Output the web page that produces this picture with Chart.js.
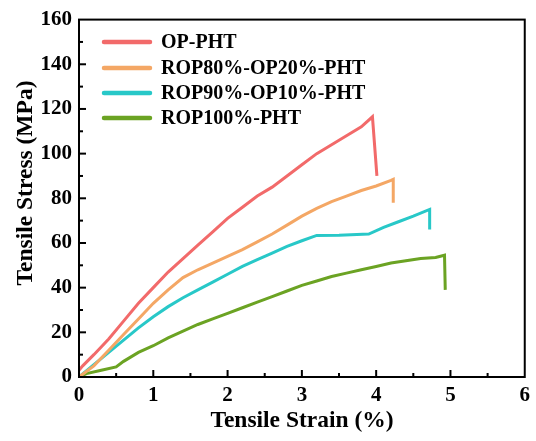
<!DOCTYPE html>
<html>
<head>
<meta charset="utf-8">
<script src="https://cdn.jsdelivr.net/npm/chart.js@4.4.0/dist/chart.umd.min.js"></script>
<style>
  html, body { margin: 0; padding: 0; background: #fff; }
  #wrap { width: 536px; height: 441px; }
</style>
</head>
<body>
<div id="wrap"><canvas id="stressChart" width="536" height="441"></canvas></div>
<script>
// datos (deformación %, tensión MPa)
const seriesNames = ["OP-PHT", "ROP80%-OP20%-PHT", "ROP90%-OP10%-PHT", "ROP100%-PHT"];
const seriesColors = ["#F26A6A", "#F4A765", "#28C8C8", "#6BA323"];

const opStrain = [0, 0.05, 0.2, 0.4, 0.6, 0.8, 1.0, 1.2, 1.4, 1.6, 1.8, 2.0, 2.2, 2.4, 2.6, 2.8, 3.0, 3.2, 3.4, 3.6, 3.8, 3.95, 4.01];
const opStress = [3, 5, 10, 17, 25, 33, 40, 47, 53, 59, 65, 71, 76, 81, 85, 90, 95, 100, 104, 108, 112, 116.5, 90];

const rop80Strain = [0, 0.2, 0.4, 0.6, 0.8, 1.0, 1.2, 1.4, 1.6, 1.8, 2.0, 2.2, 2.4, 2.6, 2.8, 3.0, 3.2, 3.4, 3.6, 3.8, 4.0, 4.2, 4.23, 4.23];
const rop80Stress = [0, 5, 12, 19, 26, 33, 39, 44.5, 48, 51, 54, 57, 60.5, 64, 68, 72, 75.5, 78.5, 81, 83.5, 85.5, 88, 88.5, 78];

const rop90Strain = [0, 0.2, 0.4, 0.6, 0.8, 1.0, 1.2, 1.4, 1.6, 1.8, 2.0, 2.2, 2.4, 2.6, 2.8, 3.0, 3.2, 3.5, 3.9, 4.1, 4.3, 4.5, 4.72, 4.72];
const rop90Stress = [0, 5.5, 11, 16.5, 22, 27, 31.5, 35.5, 39, 42.5, 46, 49.5, 52.5, 55.5, 58.5, 61, 63.4, 63.5, 64, 67, 69.5, 72, 75, 66];

const rop100Strain = [0, 0.1, 0.3, 0.5, 0.6, 0.8, 1.0, 1.2, 1.4, 1.6, 1.8, 2.0, 2.2, 2.4, 2.6, 2.8, 3.0, 3.2, 3.4, 3.6, 3.8, 4.0, 4.2, 4.4, 4.6, 4.8, 4.92, 4.93];
const rop100Stress = [0, 1.5, 3, 4.5, 7, 11, 14, 17.5, 20.5, 23.5, 26, 28.5, 31, 33.5, 36, 38.5, 41, 43, 45, 46.5, 48, 49.5, 51, 52, 53, 53.5, 54.5, 39];

const xTicks = [0, 1, 2, 3, 4, 5, 6];
const yTicks = [0, 20, 40, 60, 80, 100, 120, 140, 160];

const xTitle = "Tensile Strain (%)";
const yTitle = "Tensile Stress (MPa)";

const allStrain = [opStrain, rop80Strain, rop90Strain, rop100Strain];
const allStress = [opStress, rop80Stress, rop90Stress, rop100Stress];

function toPoints(xs, ys) {
    return xs.map((x, i) => ({ x: x, y: ys[i] }));
}

const boldSerif = "'Liberation Serif', 'DejaVu Serif', serif";

// marco, marcas menores, títulos y leyenda interior
const frameAndLegend = {
    id: "frameAndLegend",
    afterDraw(chart) {
        const ctx = chart.ctx;
        const a = chart.chartArea;
        const xs = chart.scales.x;
        const ys = chart.scales.y;
        ctx.save();
        ctx.strokeStyle = "#000";
        ctx.lineWidth = 2;
        ctx.strokeRect(a.left, a.top, a.right - a.left, a.bottom - a.top);

        for (let v = 0.5; v < 6; v += 0.5) {
            const len = Number.isInteger(v) ? 7 : 4;
            const px = xs.getPixelForValue(v);
            ctx.beginPath();
            ctx.moveTo(px, a.bottom);
            ctx.lineTo(px, a.bottom - len);
            ctx.stroke();
        }
        for (let v = 10; v < 160; v += 10) {
            const len = v % 20 === 0 ? 7 : 4;
            const py = ys.getPixelForValue(v);
            ctx.beginPath();
            ctx.moveTo(a.left, py);
            ctx.lineTo(a.left + len, py);
            ctx.stroke();
        }

        // títulos de ejes
        ctx.fillStyle = "#000";
        ctx.font = "bold 23.5px " + boldSerif;
        ctx.textAlign = "center";
        ctx.textBaseline = "middle";
        ctx.fillText(xTitle, 302, 421);
        ctx.save();
        ctx.translate(26, 183);
        ctx.rotate(-Math.PI / 2);
        ctx.fillText(yTitle, 0, 0);
        ctx.restore();

        // leyenda
        ctx.font = "bold 20px " + boldSerif;
        ctx.textAlign = "left";
        const rowY = [42, 68, 93, 118];
        chart.data.datasets.forEach((ds, i) => {
            const y = rowY[i];
            ctx.strokeStyle = ds.borderColor;
            ctx.lineWidth = 4.5;
            ctx.lineCap = "round";
            ctx.beginPath();
            ctx.moveTo(104, y);
            ctx.lineTo(150, y);
            ctx.stroke();
            ctx.fillStyle = "#000";
            ctx.fillText(ds.label, 161, y + 1);
        });
        ctx.restore();
    }
};

const ctx = document.getElementById("stressChart").getContext("2d");
const stressChart = new Chart(ctx, {
    type: "scatter",
    data: {
        datasets: seriesNames.map((name, i) => ({
            label: name,
            data: toPoints(allStrain[i], allStress[i]),
            showLine: true,
            borderColor: seriesColors[i],
            backgroundColor: seriesColors[i],
            borderWidth: 3,
            pointRadius: 0,
            tension: 0
        }))
    },
    options: {
        responsive: false,
        animation: false,
        layout: { padding: { top: 14, right: 6, left: 0, bottom: 0 } },
        plugins: {
            legend: { display: false },
            tooltip: { enabled: false }
        },
        scales: {
            x: {
                type: "linear",
                min: 0,
                max: 6,
                afterBuildTicks: (s) => { s.ticks = xTicks.map(v => ({ value: v })); },
                afterFit: (s) => { s.height = 64; },
                grid: { display: false, drawTicks: false },
                border: { display: false },
                ticks: {
                    padding: 6,
                    color: "#000",
                    font: { family: boldSerif, size: 21, weight: "bold" }
                }
            },
            y: {
                type: "linear",
                min: 0,
                max: 160,
                afterBuildTicks: (s) => { s.ticks = yTicks.map(v => ({ value: v })); },
                afterFit: (s) => { s.width = 79; },
                grid: { display: false, drawTicks: false },
                border: { display: false },
                ticks: {
                    padding: 7,
                    color: "#000",
                    font: { family: boldSerif, size: 21, weight: "bold" }
                }
            }
        }
    },
    plugins: [frameAndLegend]
});
</script>
</body>
</html>
